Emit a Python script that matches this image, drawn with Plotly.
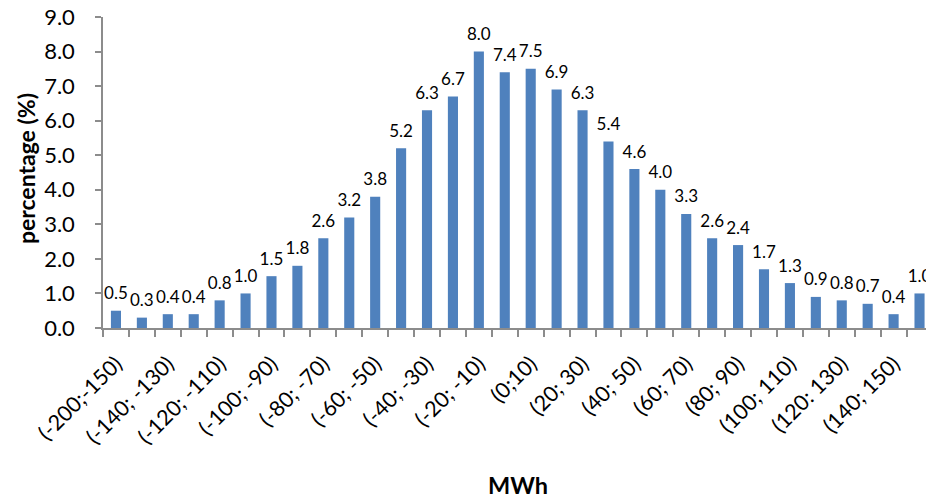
import plotly.graph_objects as go

categories = [
    "(-200;-150)", "(-150; -140)", "(-140; -130)", "(-130; -120)", "(-120; -110)",
    "(-110; -100)", "(-100; -90)", "(-90; -80)", "(-80; -70)", "(-70; -60)",
    "(-60; -50)", "(-50; -40)", "(-40; -30)", "(-30; -20)", "(-20; -10)",
    "(-10; 0)", "(0;10)", "(10; 20)", "(20; 30)", "(30; 40)", "(40; 50)",
    "(50; 60)", "(60; 70)", "(70; 80)", "(80; 90)", "(90; 100)", "(100; 110)",
    "(110; 120)", "(120: 130)", "(130; 140)", "(140; 150)", "(150; 200)",
]
values = [0.5, 0.3, 0.4, 0.4, 0.8, 1.0, 1.5, 1.8, 2.6, 3.2, 3.8, 5.2, 6.3, 6.7, 8.0, 7.4,
          7.5, 6.9, 6.3, 5.4, 4.6, 4.0, 3.3, 2.6, 2.4, 1.7, 1.3, 0.9, 0.8, 0.7, 0.4, 1.0]
y_ticks = [0, 1, 2, 3, 4, 5, 6, 7, 8, 9]

idx = list(range(len(categories)))
FONT = "Lato, 'Open Sans', sans-serif"
BAR = "#4F81BD"
AXIS = "#8C8C8C"

fig = go.Figure()
fig.add_trace(go.Bar(x=idx, y=values, width=0.39, marker=dict(color=BAR, line=dict(width=0)),
                     hoverinfo="skip"))
fig.add_trace(go.Scatter(x=idx, y=values, mode="markers+text",
                         text=[f"{v:.1f}" for v in values], textposition="top center",
                         marker=dict(size=10, opacity=0), cliponaxis=False,
                         textfont=dict(family=FONT, size=17, color="#000000"), hoverinfo="skip"))

fig.update_layout(
    width=926, height=498,
    margin=dict(l=103, r=0, t=17, b=170),
    paper_bgcolor="white", plot_bgcolor="white",
    showlegend=False,
    font=dict(family=FONT, color="#000000"),
    xaxis=dict(
        range=[-0.5, 31.25],
        tickmode="array", tickvals=idx[::2], ticktext=categories[::2],
        tickangle=-45, ticks="", ticklen=0,
        tickfont=dict(family=FONT, size=21.5, color="#000000"),
        showline=True, linecolor=AXIS, linewidth=1.5,
        showgrid=False, zeroline=False,
        minor=dict(tickmode="linear", tick0=-0.5, dtick=1, ticks="outside", ticklen=7,
                   tickcolor=AXIS, tickwidth=1.5, showgrid=False),
        ticklabelstandoff=13,
    ),
    yaxis=dict(
        range=[0, 9], tickmode="array", tickvals=y_ticks,
        tickformat=".1f",
        ticks="outside", ticklen=6, tickcolor=AXIS, tickwidth=1.5,
        tickfont=dict(family=FONT, size=22, color="#000000"),
        showline=True, linecolor=AXIS, linewidth=1.5,
        showgrid=False, zeroline=False,
        ticklabelstandoff=16,
    ),
    annotations=[
        dict(text="<b>percentage (%)</b>", xref="paper", yref="paper",
             x=-0.0936, y=0.514, xanchor="center", yanchor="middle", textangle=-90,
             showarrow=False, font=dict(family=FONT, size=23, color="#000000")),
        dict(text="<b>MWh</b>", xref="paper", yref="paper",
             x=0.504, y=-0.505, xanchor="center", yanchor="middle",
             showarrow=False, font=dict(family=FONT, size=23.5, color="#000000")),
    ],
)

fig.write_html("out.html")
